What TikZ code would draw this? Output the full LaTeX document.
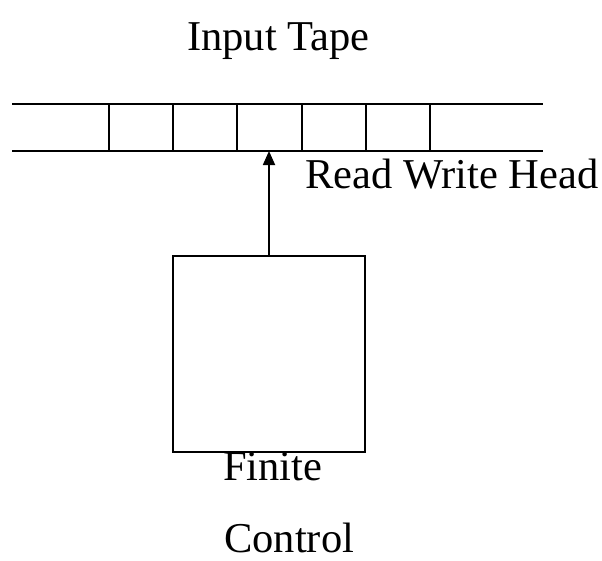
\documentclass[tikz,border=0pt]{standalone}
\usepackage{fontspec}
\setmainfont{Liberation Serif}
\usetikzlibrary{arrows.meta}
\begin{document}
\begin{tikzpicture}[x=1pt,y=-1pt,
  line/.style={line width=1.8pt},
  label/.style={font=\fontsize{42.5}{42.5}\selectfont, inner sep=0pt, text depth=0pt, anchor=base west}]
\useasboundingbox (0,0) rectangle (602,560);
% tape edges
\coordinate (tl) at (12,104);
\coordinate (tr) at (543,104);
\coordinate (bl) at (12,151);
\coordinate (br) at (543,151);
\draw[line] (tl) -- (tr);
\draw[line] (bl) -- (br);
% cell dividers
\foreach \x in {109,173,237,302,366,430}
  \draw[line] (\x,104) -- (\x,151);
% finite control box
\node[draw, line width=1.8pt, minimum width=192pt, minimum height=196pt, inner sep=0pt]
  (fc) at (269,354) {};
\coordinate (head) at (269,151);
\draw[line, -{Triangle[length=14pt,width=12pt]}] (fc.north) -- (head);
% labels
\node[label] (tape) at (187,50) {Input Tape};
\node[label] (rwh) at (305,188) {Read Write Head};
\node[label] (fin) at (223,480) {Finite};
\node[label] (ctl) at (224,552) {Control};
\end{tikzpicture}
\end{document}
